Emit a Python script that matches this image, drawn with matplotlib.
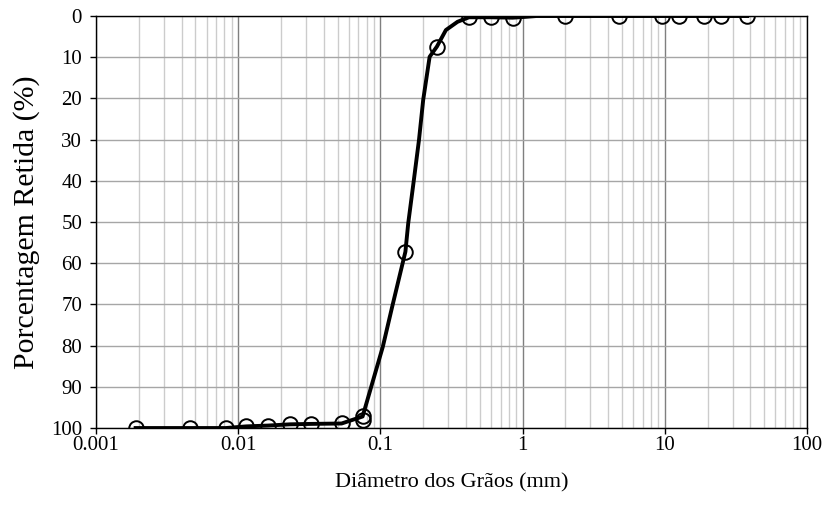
import matplotlib
matplotlib.use("Agg")
import matplotlib.pyplot as plt
from matplotlib.ticker import LogLocator, FixedLocator, NullFormatter

plt.rcParams['font.family'] = ['Liberation Serif', 'DejaVu Serif']

# Measured points (grain diameter in mm, percentage retained)
diam = [0.0019, 0.0046, 0.0082, 0.0114, 0.0162, 0.0232, 0.0323, 0.0534, 0.075, 0.075,
        0.15, 0.25, 0.42, 0.6, 0.85, 2.0, 4.75, 9.5, 12.5, 19.0, 25.0, 38.0]
retida = [100.0, 100.0, 100.0, 99.5, 99.4, 99.0, 99.0, 98.9, 97.0, 98.1,
          57.2, 7.4, 0.2, 0.3, 0.4, 0.0, 0.0, 0.0, 0.0, 0.0, 0.0, 0.0]

# Curve
curve_x = [0.0019, 0.0046, 0.0082, 0.0114, 0.0162, 0.0232, 0.0323, 0.0534, 0.075,
           0.104, 0.121, 0.15, 0.157, 0.172, 0.187, 0.20, 0.222, 0.25,
           0.289, 0.349, 0.42, 0.6, 0.85, 1.05, 1.25, 2.0, 4.75, 9.5, 12.5, 19.0, 25.0, 38.0]
curve_y = [100.0, 100.0, 100.0, 99.6, 99.4, 99.1, 99.0, 98.9, 97.2,
           80.3, 70.6, 57.2, 50.3, 39.8, 30.0, 20.4, 9.9, 7.4,
           3.4, 1.4, 0.3, 0.3, 0.4, 0.2, 0.0, 0.0, 0.0, 0.0, 0.0, 0.0, 0.0, 0.0]

x_ticks = [0.001, 0.01, 0.1, 1, 10, 100]
x_labels = ['0.001', '0.01', '0.1', '1', '10', '100']
y_ticks = list(range(0, 101, 10))

fig = plt.figure(figsize=(8.28, 5.12), dpi=100)
ax = fig.add_axes([0.1159, 0.164, 0.8587, 0.8047])

ax.set_xscale('log')
ax.set_xlim(0.001, 100)
ax.set_ylim(100, 0)

ax.xaxis.set_major_locator(FixedLocator(x_ticks))
ax.set_xticklabels(x_labels)
ax.xaxis.set_minor_locator(LogLocator(base=10, subs=range(2, 10), numticks=20))
ax.xaxis.set_minor_formatter(NullFormatter())
ax.set_yticks(y_ticks)

ax.grid(True, which='major', axis='x', color='#7f7f7f', linewidth=1.0)
ax.grid(True, which='minor', axis='x', color='#cccccc', linewidth=1.0)
ax.grid(True, which='major', axis='y', color='#a6a6a6', linewidth=1.0)
ax.set_axisbelow(True)

ax.plot(curve_x, curve_y, color='black', linewidth=2.8, zorder=3)
ax.plot(diam, retida, linestyle='none', marker='o', markersize=10.5,
        markerfacecolor='none', markeredgecolor='black', markeredgewidth=1.4, zorder=4)

for s in ax.spines.values():
    s.set_color('black')
    s.set_linewidth(1.0)

ax.tick_params(axis='both', which='major', direction='out', length=4, width=1,
               labelsize=15, color='black')
ax.tick_params(axis='x', which='minor', length=0)
ax.tick_params(axis='x', pad=2)
ax.tick_params(axis='y', pad=6)

ax.set_xlabel('Diâmetro dos Grãos (mm)', fontsize=16, labelpad=13)
ax.set_ylabel('Porcentagem Retida (%)', fontsize=21.5, labelpad=8)

fig.savefig('out.png', dpi=100)
